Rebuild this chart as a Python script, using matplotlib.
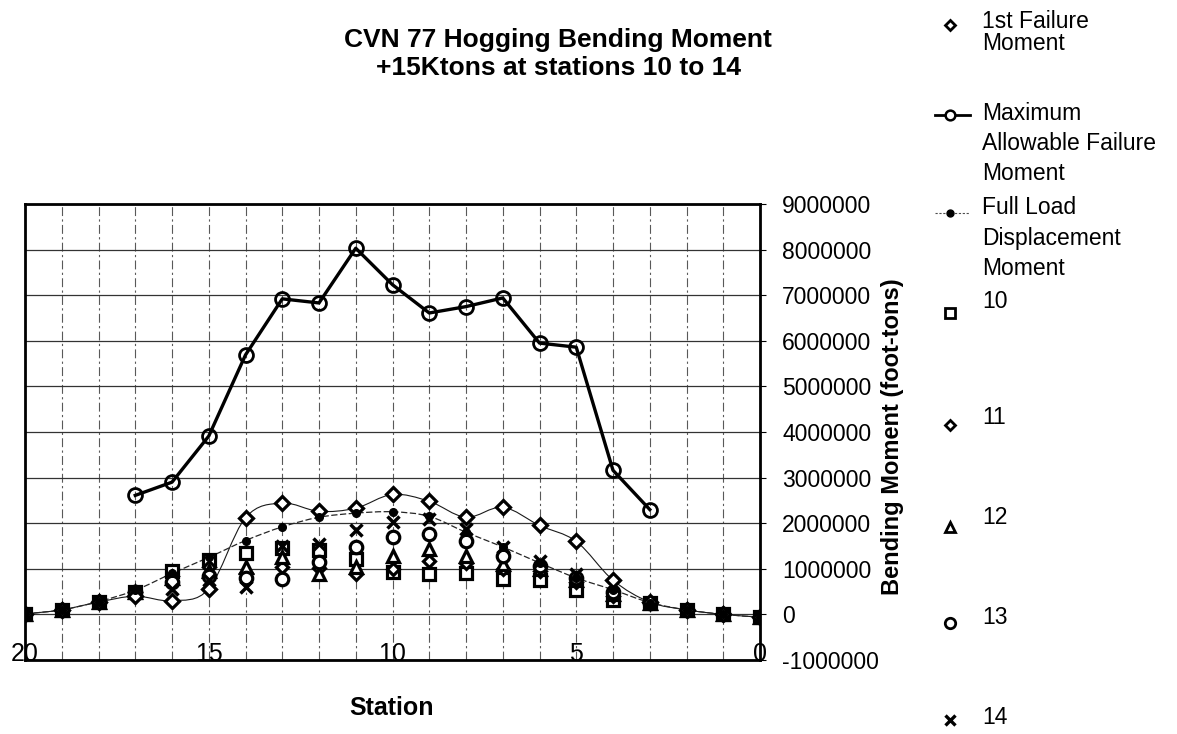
import numpy as np
import matplotlib
matplotlib.use("Agg")
import matplotlib.pyplot as plt
from matplotlib.lines import Line2D
from matplotlib.patches import PathPatch
from matplotlib.path import Path
from matplotlib.ticker import FuncFormatter, MultipleLocator

plt.rcParams["font.family"] = ["Liberation Sans", "DejaVu Sans"]
plt.rcParams["axes.unicode_minus"] = False

# stations run from the bow (20) to the stern (0)
stations = [20, 19, 18, 17, 16, 15, 14, 13, 12, 11, 10, 9, 8, 7, 6, 5, 4, 3, 2, 1, 0]

# bending moments, foot-tons
first_failure = [10000, 100000, 270000, 400000, 300000, 560000, 2120000, 2440000,
                 2260000, 2330000, 2630000, 2480000, 2130000, 2350000, 1950000,
                 1600000, 750000, 270000, 100000, 0, -60000]

max_stations = [17, 16, 15, 14, 13, 12, 11, 10, 9, 8, 7, 6, 5, 4, 3]
max_allowable = [2610000, 2900000, 3910000, 5690000, 6920000, 6830000, 8030000,
                 7230000, 6610000, 6750000, 6940000, 5950000, 5860000, 3160000,
                 2300000]

full_load = [10000, 100000, 280000, 530000, 900000, 1250000, 1620000, 1920000,
             2130000, 2220000, 2250000, 2150000, 1800000, 1480000, 1130000,
             800000, 540000, 260000, 100000, 0, -60000]

# full load plus 15 Ktons added at the named station
load_10 = [10000, 100000, 280000, 500000, 950000, 1200000, 1350000, 1450000,
           1420000, 1220000, 930000, 890000, 910000, 780000, 750000, 530000,
           320000, 250000, 100000, 0, -60000]
load_11 = [10000, 100000, 280000, 500000, 850000, 1050000, 900000, 1050000,
           1020000, 880000, 1000000, 1180000, 1120000, 1000000, 960000, 720000,
           400000, 250000, 100000, 0, -60000]
load_12 = [10000, 100000, 280000, 500000, 800000, 950000, 1050000, 1250000,
           880000, 1050000, 1280000, 1440000, 1290000, 1100000, 1000000, 750000,
           450000, 250000, 100000, 0, -60000]
load_13 = [10000, 100000, 280000, 500000, 720000, 850000, 800000, 780000,
           1150000, 1480000, 1700000, 1770000, 1620000, 1290000, 1070000, 800000,
           500000, 250000, 100000, 0, -60000]
load_14 = [10000, 100000, 280000, 500000, 550000, 750000, 600000, 1500000,
           1550000, 1840000, 2020000, 2100000, 1880000, 1480000, 1180000, 890000,
           620000, 250000, 100000, 0, -60000]

W, H = 1177, 734


def smooth_path(x, y):
    """Cubic Bezier through the points, same style as a spreadsheet smoothed line."""
    pts = np.column_stack([x, y]).astype(float)
    n = len(pts)
    verts = [pts[0]]
    codes = [Path.MOVETO]
    for i in range(n - 1):
        p0 = pts[i - 1] if i > 0 else pts[i]
        p1, p2 = pts[i], pts[i + 1]
        p3 = pts[i + 2] if i + 2 < n else pts[i + 1]
        verts += [p1 + (p2 - p0) / 6.0, p2 - (p3 - p1) / 6.0, p2]
        codes += [Path.CURVE4] * 3
    return Path(verts, codes)


def fx(px):
    return px / W


def fy(py):
    return 1 - py / H


fig = plt.figure(figsize=(W / 100, H / 100), dpi=100)
ax = fig.add_axes([fx(25), fy(660), (760 - 25) / W, (660 - 204) / H])

# grid
ax.set_xlim(20, 0)
ax.set_ylim(-1000000, 9000000)
ax.xaxis.set_major_locator(MultipleLocator(5))
ax.xaxis.set_minor_locator(MultipleLocator(1))
ax.yaxis.set_major_locator(MultipleLocator(1000000))
ax.grid(True, axis="x", which="both", color="0.35", lw=0.8, ls=(0, (8, 3, 2, 3)))
ax.grid(True, axis="y", which="major", color="0.2", lw=0.9, ls="-")
ax.set_axisbelow(True)

# smoothed thin lines
ax.add_patch(PathPatch(smooth_path(stations, first_failure), fill=False,
                       ec="0.1", lw=0.8, zorder=2))
ax.add_patch(PathPatch(smooth_path(stations, full_load), fill=False,
                       ec="0.15", lw=0.9, ls=(0, (5, 2)), zorder=2))

mk = dict(ls="none", mfc="white", mec="black", mew=2.3, zorder=3)
ax.plot(stations, load_10, marker="s", ms=8, **mk)
ax.plot(stations, load_11, marker="D", ms=6, **mk)
ax.plot(stations, load_12, marker="^", ms=8.5, **mk)
ax.plot(stations, load_13, marker="o", ms=9, **mk)
ax.plot(stations, load_14, ls="none", marker="x", ms=8, mec="black", mew=2.5, zorder=3)

ax.plot(stations, full_load, ls="none", marker="o", ms=5.5, mfc="black",
        mec="black", zorder=4)
ax.plot(stations, first_failure, marker="D", ms=7, **mk)
ax.plot(max_stations, max_allowable, color="black", lw=2.4, marker="o", ms=10,
        mfc="none", mec="black", mew=2.0, zorder=5)

for side in ("left", "right", "top", "bottom"):
    ax.spines[side].set_linewidth(2)
    ax.spines[side].set_zorder(6)

ax.tick_params(axis="x", which="both", length=0, labelsize=18, pad=-13)
ax.yaxis.tick_right()
ax.tick_params(axis="y", which="both", length=4, labelsize=16.5, pad=12)
ax.yaxis.set_major_formatter(FuncFormatter(lambda v, p: f"{int(round(v))}"))
ax.xaxis.set_major_formatter(FuncFormatter(lambda v, p: f"{int(round(v))}"))

fig.text(fx(392), fy(708), "Station", ha="center", va="center",
         fontsize=18, fontweight="bold")
fig.text(fx(893), fy(437), "Bending Moment (foot-tons)", rotation=90,
         ha="center", va="center", fontsize=17, fontweight="bold")
fig.text(fx(558), fy(54), "CVN 77 Hogging Bending Moment\n+15Ktons at stations 10 to 14",
         ha="center", va="center", fontsize=19, fontweight="bold", linespacing=1.2)

# legend, one entry per series, down the right margin
legend_text = [
    (["1st Failure", "Moment"], [22, 43]),
    (["Maximum", "Allowable Failure", "Moment"], [114, 143, 173]),
    (["Full Load", "Displacement", "Moment"], [207, 238, 268]),
    (["10"], [302]),
    (["11"], [418]),
    (["12"], [518]),
    (["13"], [617]),
    (["14"], [717]),
]
for lines, ys in legend_text:
    for line, y in zip(lines, ys):
        fig.text(fx(982), fy(y), line, ha="left", va="center", fontsize=16.5)

key_x = fx(950)
fig.add_artist(Line2D([key_x], [fy(25)], transform=fig.transFigure, ls="none",
                      marker="D", ms=5, mfc="white", mec="black", mew=2))
fig.add_artist(Line2D([fx(935), fx(970)], [fy(115)] * 2, transform=fig.transFigure,
                      color="black", lw=2))
fig.add_artist(Line2D([key_x], [fy(115)], transform=fig.transFigure, ls="none",
                      marker="o", ms=7, mfc="white", mec="black", mew=1.8))
fig.add_artist(Line2D([fx(935), fx(970)], [fy(213)] * 2, transform=fig.transFigure,
                      color="0.3", lw=0.8, ls=(0, (2, 1.5))))
fig.add_artist(Line2D([key_x], [fy(213)], transform=fig.transFigure, ls="none",
                      marker="o", ms=5, mfc="black", mec="black"))
for marker, y, ms in [("s", 313, 6.5), ("D", 425, 5), ("^", 527, 6.5), ("o", 623, 7.5)]:
    fig.add_artist(Line2D([key_x], [fy(y)], transform=fig.transFigure, ls="none",
                          marker=marker, ms=ms, mfc="white", mec="black", mew=2))
fig.add_artist(Line2D([key_x], [fy(720)], transform=fig.transFigure, ls="none",
                      marker="x", ms=6.5, mec="black", mew=2.4))

fig.savefig("out.png", dpi=100, facecolor="white")
